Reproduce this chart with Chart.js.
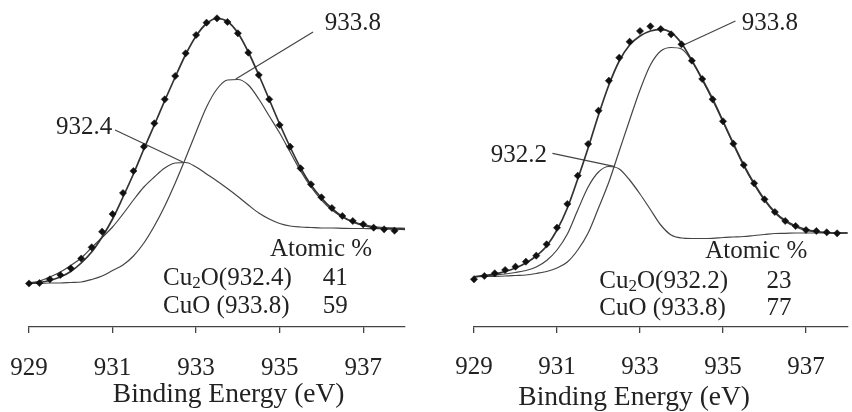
<!DOCTYPE html>
<html>
<head>
<meta charset="utf-8">
<script src="https://cdn.jsdelivr.net/npm/chart.js@4.4.1/dist/chart.umd.min.js"></script>
<style>
  html, body { margin: 0; padding: 0; background: #fff; font-family: "Liberation Serif"; }
  #wrap { position: relative; width: 852px; height: 412px; overflow: hidden; }
  canvas { position: absolute; top: 0; }
  #left  { left: 0; }
  #right { left: 430px; }
  #warm { position: absolute; left: -9999px; font: 25px "Liberation Serif"; }
</style>
</head>
<body>
<div id="warm">Binding Energy 0123456789</div>
<div id="wrap">
  <canvas id="left" width="430" height="412"></canvas>
  <canvas id="right" width="422" height="412"></canvas>
</div>
<script>
// Cu 2p3/2 XPS fits, two samples. Intensity is in arbitrary units.
const FONT = '"Liberation Serif"';

// Binding energies (eV) of the measured points and of the fitted curves
const measuredEV = [929.00, 929.25, 929.50, 929.75, 930.00, 930.25, 930.50, 930.75, 931.00, 931.25, 931.50, 931.75,
                    932.00, 932.25, 932.50, 932.75, 933.00, 933.25, 933.50, 933.75, 934.00, 934.25, 934.50, 934.75,
                    935.00, 935.25, 935.50, 935.75, 936.00, 936.25, 936.50, 936.75, 937.00, 937.25, 937.50, 937.75];
const fitEV      = [929.00, 929.25, 929.50, 929.75, 930.00, 930.25, 930.50, 930.75, 931.00, 931.25, 931.50, 931.75,
                    932.00, 932.25, 932.50, 932.75, 933.00, 933.25, 933.50, 933.75, 934.00, 934.25, 934.50, 934.75,
                    935.00, 935.25, 935.50, 935.75, 936.00, 936.25, 936.50, 936.75, 937.00, 937.25, 937.50, 937.75, 938.00];
const tickEV = [929, 931, 933, 935, 937];

// Left sample
const leftMeasured = [43.5, 44, 47.7, 52, 58.7, 68.5, 79.7, 95.3, 113, 134, 156, 180.3,
                      203.7, 227.7, 251, 273.7, 292, 304.3, 308.7, 305, 293.7, 274.3, 252, 227.7,
                      202, 180.3, 158.7, 142.7, 129.7, 119, 111, 106, 102.7, 99.3, 97.7, 96.3];
const leftEnvelope = [43.5, 44.5, 46.5, 50, 55.5, 64, 75, 90, 108, 130, 153, 178,
                      202, 226.5, 250, 272.5, 291, 303.5, 308.5, 305.5, 294, 275, 252, 227.5,
                      203, 180, 159, 142, 129, 118.5, 110.5, 105, 101.5, 99.5, 98.5, 98, 97.7];
const leftCu2O = [44, 46, 50, 55, 61.5, 69, 79.5, 89.5, 100, 113, 127, 140,
                  150, 159, 164, 164.5, 160, 153, 146, 138.5, 130.5, 122, 114, 108,
                  103.5, 101, 100, 99.5, 99, 99, 98.7, 98.5, 98.5, 98.3, 98.3, 98.2, 98];
const leftCuO = [43.5, 43.5, 44, 44, 44.5, 45, 47.5, 51, 56.5, 62, 71, 84,
                 101, 121, 144, 169, 195, 220, 238, 247, 247.5, 242, 228, 211,
                 194, 175, 156, 140, 127, 117, 110, 105.5, 102.5, 100.5, 99.5, 99, 98.7];

// Right sample
const rightMeasured = [47.7, 51, 53.7, 57, 60.3, 65.3, 71.3, 82.7, 99.3, 123, 151.3, 183,
                       216.3, 246.3, 269.3, 285.3, 296, 300.7, 298, 292.7, 282.7, 266.3, 248, 227.7,
                       205.7, 183.3, 162, 143.7, 127.7, 115, 106, 101, 97, 96, 94.7, 93.7];
const rightEnvelope = [50.3, 51.5, 53, 55.5, 59, 64, 71, 81, 97, 119, 148, 179,
                       212, 242, 266, 282, 291, 296, 297.7, 294.5, 283.7, 266.5, 248, 228,
                       206, 183.5, 162, 143.5, 127.5, 115, 106.5, 101, 97.5, 95.5, 94.5, 94, 94];
const rightCu2O = [50.3, 51, 52, 53, 54.5, 56.5, 60, 66.5, 77, 93, 117, 140,
                   155, 160.5, 158, 147, 133, 117.5, 102, 92, 89, 88.5, 88.5, 88.7,
                   89.5, 90, 90.5, 91.5, 92.5, 93.5, 93.7, 94, 94, 94, 94, 94, 94];
const rightCuO = [50.3, 50.5, 50.7, 51, 51.5, 52, 53.5, 55.5, 59, 65, 77, 94,
                  119, 145, 176, 207, 237, 262, 276, 279.5, 278, 266, 247, 227,
                  205, 182.5, 161, 142.5, 126.5, 114, 105.5, 100, 96.5, 95, 94.2, 94, 94];

// Peak labels: text, anchor [eV, intensity], and the leader line ends
const leftPeaks = [
  { text: '932.4', at: [930.99, 200], align: 'right', line: [[931.06, 197], [932.68, 165]] },
  { text: '933.8', at: [936.08, 304], align: 'left',  line: [[935.80, 295], [933.95, 248]] }
];
const rightPeaks = [
  { text: '932.2', at: [930.76, 172], align: 'right', line: [[930.89, 173.7], [932.40, 160.3]] },
  { text: '933.8', at: [935.45, 304], align: 'left',  line: [[935.30, 306], [934.00, 281]] }
];

// Atomic % tables
const leftNames  = ['Cu_2O(932.4)', 'CuO (933.8)'];
const leftPct    = [41, 59];
const rightNames = ['Cu_2O(932.2)', 'CuO (933.8)'];
const rightPct   = [23, 77];

const pts = (xs, ys) => ys.map((y, i) => ({ x: xs[i], y }));

// draw "Cu_2O" with the digit after "_" as a subscript
function drawRich(ctx, str, x, y) {
  const parts = str.split(/_(\d)/);
  let cx = x;
  parts.forEach((p, i) => {
    const sub = i % 2 === 1;
    ctx.font = (sub ? '17px ' : '25px ') + FONT;
    ctx.fillText(p, cx, y + (sub ? 6 : 0));
    cx += ctx.measureText(p).width;
  });
}

function textPlugin(cfg) {
  return {
    id: 'panelText',
    afterDraw(chart) {
      const { ctx, scales: { x, y } } = chart;
      ctx.save();
      ctx.fillStyle = '#222';
      ctx.textBaseline = 'middle';

      cfg.peaks.forEach(p => {
        ctx.font = '25px ' + FONT;
        ctx.textAlign = p.align;
        ctx.fillText(p.text, x.getPixelForValue(p.at[0]), y.getPixelForValue(p.at[1]));
      });

      ctx.textAlign = 'left';
      ctx.font = '25px ' + FONT;
      ctx.fillText('Atomic %', x.getPixelForValue(cfg.headEV), y.getPixelForValue(cfg.rowI[0]));
      cfg.names.forEach((n, i) => {
        const py = y.getPixelForValue(cfg.rowI[i + 1]);
        drawRich(ctx, n, x.getPixelForValue(cfg.nameEV), py);
        ctx.font = '25px ' + FONT;
        ctx.fillText(String(cfg.pct[i]), x.getPixelForValue(cfg.pctEV), py);
      });

      // axis title
      ctx.textAlign = 'center';
      ctx.font = '27.5px ' + FONT;
      ctx.fillText('Binding Energy (eV)', x.getPixelForValue(cfg.titleEV), cfg.titleY);
      ctx.restore();
    }
  };
}

function makePanel(id, cfg) {
  const leaders = cfg.peaks.map(p => ({
    data: p.line.map(([e, v]) => ({ x: e, y: v })),
    borderColor: '#444', borderWidth: 1.2, pointRadius: 0, tension: 0
  }));

  new Chart(document.getElementById(id), {
    type: 'line',
    data: {
      datasets: [
        { label: 'Measured', data: pts(measuredEV, cfg.measured), showLine: false,
          pointStyle: 'rectRot', pointRadius: 3.6, pointBackgroundColor: '#111',
          pointBorderColor: '#111', pointBorderWidth: 0.5 },
        { label: 'Fit', data: pts(fitEV, cfg.envelope), borderColor: '#333', borderWidth: 1.7,
          pointRadius: 0, cubicInterpolationMode: 'monotone' },
        { label: 'Cu2O', data: pts(fitEV, cfg.cu2o), borderColor: '#444', borderWidth: 1.2,
          pointRadius: 0, cubicInterpolationMode: 'monotone' },
        { label: 'CuO', data: pts(fitEV, cfg.cuo), borderColor: '#444', borderWidth: 1.2,
          pointRadius: 0, cubicInterpolationMode: 'monotone' },
        ...leaders
      ]
    },
    options: {
      responsive: false,
      animation: false,
      clip: false,
      layout: { padding: cfg.padding },
      plugins: { legend: { display: false }, tooltip: { enabled: false } },
      scales: {
        x: {
          type: 'linear', min: 929, max: 938,
          afterBuildTicks: s => { s.ticks = tickEV.map(v => ({ value: v })); },
          // fixed axis band; layout padding alone sets the plot edges
          afterFit: s => { s.height = 85; s.paddingLeft = 0; s.paddingRight = 0; },
          grid: { drawOnChartArea: false, drawTicks: true, tickLength: 6, color: '#444', lineWidth: 1.3 },
          border: { display: true, color: '#444', width: 1.3 },
          ticks: { color: '#222', font: { family: FONT, size: 25 }, padding: cfg.tickPad,
                   maxRotation: 0, autoSkip: false }
        },
        y: { display: false, min: 0, max: 317 }
      }
    },
    plugins: [textPlugin(cfg)]
  });
}

Chart.defaults.font.family = FONT;

function drawAll() {
  makePanel('left', {
    measured: leftMeasured, envelope: leftEnvelope, cu2o: leftCu2O, cuo: leftCuO,
    peaks: leftPeaks, names: leftNames, pct: leftPct,
    headEV: 934.77, nameEV: 932.21, pctEV: 936.03, rowI: [78, 49, 21],
    titleEV: 933.78, titleY: 395, tickPad: 20,
    padding: { left: 29, right: 25, top: 10, bottom: 0 }
  });

  makePanel('right', {
    measured: rightMeasured, envelope: rightEnvelope, cu2o: rightCu2O, cuo: rightCuO,
    peaks: rightPeaks, names: rightNames, pct: rightPct,
    headEV: 934.57, nameEV: 932.02, pctEV: 936.05, rowI: [76, 46, 19],
    titleEV: 932.86, titleY: 398, tickPad: 19,
    padding: { left: 44, right: 0, top: 10, bottom: 0 }
  });
}

document.fonts.load('25px ' + FONT).then(drawAll, drawAll);
</script>
</body>
</html>
